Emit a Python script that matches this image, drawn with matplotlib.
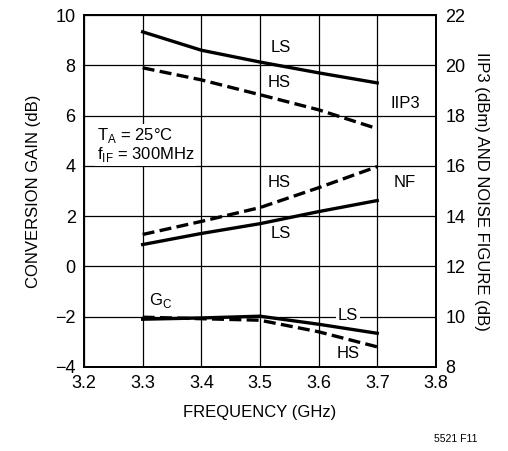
import matplotlib
matplotlib.use("Agg")
import matplotlib.pyplot as plt

plt.rcParams['font.family'] = ['Liberation Sans', 'DejaVu Sans']

freq = [3.3, 3.4, 3.5, 3.6, 3.7]
# right axis (dBm / dB)
iip3_ls = [21.33, 20.6, 20.13, 19.7, 19.3]
iip3_hs = [19.9, 19.42, 18.83, 18.23, 17.48]
nf_hs = [13.27, 13.79, 14.34, 15.13, 15.97]
nf_ls = [12.87, 13.31, 13.7, 14.18, 14.62]
# left axis (dB)
gain_ls = [-2.1, -2.05, -1.98, -2.3, -2.66]
gain_hs = [-2.02, -2.08, -2.14, -2.6, -3.2]

fig = plt.figure(figsize=(5.08, 4.51), dpi=100)
ax = fig.add_axes([0.1654, 0.1863, 0.6926, 0.7804])
ax2 = ax.twinx()

ax.set_xlim(3.2, 3.8)
ax.set_ylim(-4, 10)
ax2.set_ylim(8, 22)
ax.set_xticks([3.2, 3.3, 3.4, 3.5, 3.6, 3.7, 3.8])
ax.set_yticks(range(-4, 11, 2))
ax2.set_yticks(range(8, 23, 2))
ax.set_yticklabels(['\u22124', '\u22122', '0', '2', '4', '6', '8', '10'])
ax.grid(True, color='black', lw=0.9)
ax.tick_params(length=0, labelsize=13, pad=6)
ax2.tick_params(length=0, labelsize=13, pad=7)
for a in (ax, ax2):
    for s in a.spines.values():
        s.set_linewidth(1.3)

lw = 2.4
dash = (3.6, 1.6)
ax2.plot(freq, iip3_ls, color='black', lw=lw)
ax2.plot(freq, iip3_hs, color='black', lw=lw, dashes=dash)
ax2.plot(freq, nf_hs, color='black', lw=lw, dashes=dash)
ax2.plot(freq, nf_ls, color='black', lw=lw)
ax.plot(freq, gain_hs, color='black', lw=lw, dashes=dash)
ax.plot(freq, gain_ls, color='black', lw=lw)

fs = 12
ax.text(3.535, 8.7, 'LS', fontsize=fs, ha='center', va='center')
ax.text(3.532, 7.3, 'HS', fontsize=fs, ha='center', va='center')
ax.text(3.722, 6.5, 'IIP3', fontsize=fs, ha='left', va='center')
ax.text(3.532, 3.35, 'HS', fontsize=fs, ha='center', va='center')
ax.text(3.728, 3.35, 'NF', fontsize=fs, ha='left', va='center')
ax.text(3.535, 1.3, 'LS', fontsize=fs, ha='center', va='center')
ax.text(3.31, -1.35, r'G$_\mathregular{C}$', fontsize=fs, ha='left', va='center')
ax.text(3.65, -1.95, 'LS', fontsize=fs, ha='center', va='center',
        bbox=dict(facecolor='white', edgecolor='none', pad=1.5))
ax.text(3.65, -3.45, 'HS', fontsize=fs, ha='center', va='center')
ax.text(3.222, 5.6, 'T$_\\mathregular{A}$ = 25\u00b0C\nf$_\\mathregular{IF}$ = 300MHz',
        fontsize=fs, ha='left', va='top', linespacing=1.05,
        bbox=dict(facecolor='white', edgecolor='none', pad=1.5))

ax.set_xlabel('FREQUENCY (GHz)', fontsize=12, labelpad=9)
ax.set_ylabel('CONVERSION GAIN (dB)', fontsize=12, labelpad=10)
ax2.set_ylabel('IIP3 (dBm) AND NOISE FIGURE (dB)', fontsize=12,
               rotation=-90, labelpad=17)
fig.text(0.94, 0.015, '5521 F11', fontsize=7.5, ha='right', va='bottom')

fig.savefig('out.png', dpi=100)
